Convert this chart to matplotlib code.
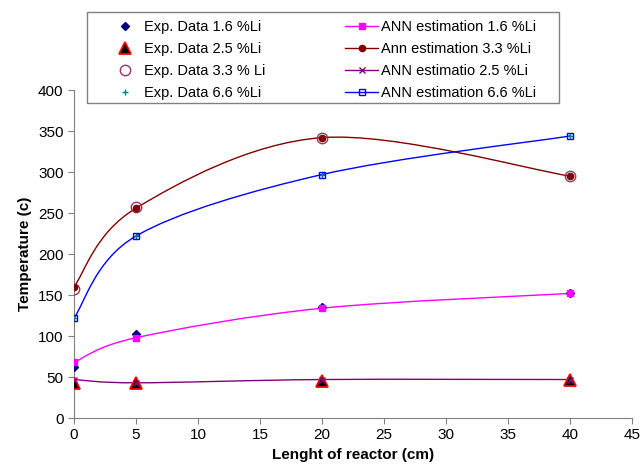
import matplotlib
matplotlib.use("Agg")
import matplotlib.pyplot as plt
import numpy as np
from matplotlib.lines import Line2D
from matplotlib.patches import PathPatch, Rectangle
from matplotlib.path import Path

plt.rcParams["font.family"] = ["Liberation Sans", "DejaVu Sans"]

# reactor positions (cm)
x_pos = [0, 5, 20, 40]

# experimental data
exp_16 = [62, 103, 135, 152]
exp_25 = [43, 43, 45, 46]
exp_33 = [157, 258, 341, 295]
exp_66 = [122, 222, 297, 344]

# ANN estimations
ann_16 = [68, 98, 134, 152]
ann_33 = [160, 256, 342, 295]
ann_25 = [47, 43, 47, 47]
ann_66 = [122, 222, 297, 344]


def smooth_path(xs, ys):
    """Excel-style smoothed line: cubic Bezier segments (Catmull-Rom, 1/6 tension)."""
    pts = np.column_stack([xs, ys]).astype(float)
    n = len(pts)
    verts = [pts[0]]
    codes = [Path.MOVETO]
    for i in range(n - 1):
        p0 = pts[i - 1] if i > 0 else pts[i]
        p1 = pts[i]
        p2 = pts[i + 1]
        p3 = pts[i + 2] if i + 2 < n else pts[i + 1]
        c1 = p1 + (p2 - p0) / 6.0
        c2 = p2 - (p3 - p1) / 6.0
        verts += [c1, c2, p2]
        codes += [Path.CURVE4] * 3
    return Path(verts, codes)


fig = plt.figure(figsize=(6.41, 4.74), dpi=100)
ax = fig.add_axes([0.1154, 0.118, 0.871, 0.692])

ann_series = [
    (ann_16, "#FF00FF", dict(marker="s", ms=4.5, mfc="#FF00FF", mec="#FF00FF"), "ANN estimation 1.6 %Li"),
    (ann_33, "#800000", dict(marker="o", ms=4.5, mfc="#800000", mec="#800000"), "Ann estimation 3.3 %Li"),
    (ann_25, "#800080", dict(marker="x", ms=4.5, mfc="#800080", mec="#800080"), "ANN estimatio 2.5 %Li"),
    (ann_66, "#0000FF", dict(marker="s", ms=4.5, mfc="none", mec="#0000FF"), "ANN estimation 6.6 %Li"),
]

exp_series = [
    (exp_16, dict(marker="D", ms=4, mfc="#000080", mec="#000080"), "Exp. Data 1.6 %Li"),
    (exp_25, dict(marker="^", ms=8, mfc="#000000", mec="#FF0000", mew=1.3), "Exp. Data 2.5 %Li"),
    (exp_33, dict(marker="o", ms=7.5, mfc="none", mec="#993366", mew=1.0), "Exp. Data 3.3 % Li"),
    (exp_66, dict(marker="+", ms=5, mfc="#008080", mec="#008080", mew=1.0), "Exp. Data 6.6 %Li"),
]

handles_exp = []
for ys, style, label in exp_series:
    ax.plot(x_pos, ys, ls="none", zorder=3, **style)
    handles_exp.append(Line2D([], [], ls="none", label=label, **style))

handles_ann = []
for ys, color, style, label in ann_series:
    ax.add_patch(PathPatch(smooth_path(x_pos, ys), fill=False, edgecolor=color, lw=1.0, zorder=2))
    ax.plot(x_pos, ys, ls="none", zorder=4, **style)
    handles_ann.append(Line2D([], [], color=color, lw=1.0, label=label, **style))

ax.set_xlim(0, 45)
ax.set_ylim(0, 400)
ax.set_xticks(range(0, 46, 5))
ax.set_yticks(range(0, 401, 50))
ax.tick_params(labelsize=11, direction="out", length=4, color="#808080")
for side in ("top", "right"):
    ax.spines[side].set_visible(False)
for side in ("left", "bottom"):
    ax.spines[side].set_color("#808080")

ax.set_xlabel("Lenght of reactor (cm)", fontsize=11, fontweight="bold")
ax.set_ylabel("Temperature (c)", fontsize=11, fontweight="bold")

# legend: one frame around two frameless columns
fig.add_artist(Rectangle((0.1357, 0.7827), 0.7363, 0.192, transform=fig.transFigure,
                         facecolor="white", edgecolor="#808080", lw=1.0, zorder=4))
leg_kw = dict(loc="upper left", fontsize=10.5, frameon=False, labelspacing=0.55,
              borderpad=0, borderaxespad=0)
fig.legend(handles=handles_exp, bbox_to_anchor=(0.1716, 0.958),
           handlelength=2.0, handletextpad=0.3, **leg_kw)
fig.legend(handles=handles_ann, bbox_to_anchor=(0.538, 0.958),
           handlelength=2.3, handletextpad=0.2, **leg_kw)

fig.savefig("out.png", dpi=100)
